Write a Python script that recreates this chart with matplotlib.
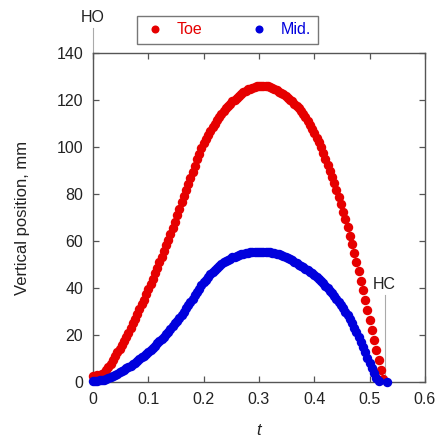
import numpy as np
import matplotlib
matplotlib.use("Agg")
import matplotlib.pyplot as plt

plt.rcParams['font.family'] = ['Liberation Sans', 'DejaVu Sans']

# ---- data (sampled every dt seconds) ----
dt = 0.004
toe = [2.5, 2.6, 2.8, 3.0, 3.4, 4.0, 5.0, 6.3, 7.8, 9.3,
       11.0, 12.6, 14.2, 15.8, 17.4, 19.0, 21.0, 23.0, 25.0, 27.0,
       29.0, 31.0, 33.0, 35.1, 37.3, 39.5, 41.7, 43.9, 46.2, 48.6,
       51.0, 53.4, 55.8, 58.2, 60.6, 63.0, 65.6, 68.2, 70.9, 73.7,
       76.5, 79.1, 81.7, 84.3, 86.9, 89.5, 92.1, 94.7, 97.1, 99.4,
       101.5, 103.4, 105.2, 106.9, 108.5, 110.0, 111.4, 112.8, 114.1, 115.3,
       116.5, 117.5, 118.5, 119.4, 120.2, 121.0, 121.8, 122.6, 123.3, 123.9,
       124.5, 124.9, 125.3, 125.6, 125.8, 126.0, 126.1, 126.1, 126.0, 125.8,
       125.5, 125.1, 124.7, 124.2, 123.6, 123.0, 122.4, 121.8, 121.0, 120.2,
       119.4, 118.5, 117.5, 116.4, 115.2, 114.0, 112.6, 111.1, 109.5, 107.8,
       106.0, 104.0, 102.0, 99.8, 97.5, 95.0, 92.5, 90.0, 87.3, 84.6,
       81.8, 78.6, 75.6, 72.5, 69.2, 65.8, 62.3, 58.6, 54.9, 51.0,
       47.1, 43.1, 39.1, 35.0, 30.8, 26.6, 22.3, 18.0, 13.7, 9.4,
       5.2, 1.4]
mid = [0.5, 0.5, 0.6, 0.7, 0.8, 1.0, 1.3, 1.7, 2.1, 2.5,
       3.0, 3.5, 4.1, 4.6, 5.2, 5.8, 6.4, 7.0, 7.7, 8.3,
       9.0, 9.7, 10.5, 11.2, 12.0, 12.8, 13.7, 14.6, 15.5, 16.4,
       17.3, 18.3, 19.3, 20.4, 21.4, 22.5, 23.7, 24.9, 26.1, 27.3,
       28.5, 29.9, 31.3, 32.7, 34.1, 35.5, 36.9, 38.3, 39.7, 41.1,
       42.4, 43.6, 44.7, 45.8, 46.8, 47.8, 48.7, 49.5, 50.2, 50.9,
       51.5, 52.0, 52.5, 53.0, 53.4, 53.8, 54.1, 54.4, 54.6, 54.8,
       55.0, 55.2, 55.3, 55.4, 55.5, 55.5, 55.5, 55.4, 55.4, 55.3,
       55.2, 55.0, 54.8, 54.5, 54.3, 54.0, 53.6, 53.2, 52.7, 52.3,
       51.8, 51.2, 50.6, 50.0, 49.4, 48.8, 48.2, 47.5, 46.9, 46.2,
       45.5, 44.6, 43.8, 42.9, 42.0, 41.0, 40.0, 38.9, 37.8, 36.7,
       35.5, 34.2, 32.9, 31.5, 30.0, 28.5, 26.7, 24.9, 23.0, 21.1,
       19.2, 17.0, 14.8, 12.6, 10.3, 8.0, 5.8, 3.7, 1.8, 0.4]
mid_hc_t = [0.532]
mid_hc_v = [0.0]

ho_t = 0.0
hc_t = 0.527

xticks = [0, 0.1, 0.2, 0.3, 0.4, 0.5, 0.6]
xticklabels = ["0", "0.1", "0.2", "0.3", "0.4", "0.5", "0.6"]
yticks = [0, 20, 40, 60, 80, 100, 120, 140]

t_toe = np.arange(len(toe)) * dt
t_mid = np.arange(len(mid)) * dt

RED = '#e60000'
BLUE = '#0000dd'
FS = 11.5

fig = plt.figure(figsize=(4.38, 4.40), dpi=100)
ax = fig.add_axes([0.2123, 0.1318, 0.758, 0.7477])

ms = 6.8
ax.plot(t_toe, toe, 'o', color=RED, ms=ms, mec=RED, mew=0, label='Toe', clip_on=False, zorder=3)
ax.plot(np.concatenate([t_mid, mid_hc_t]), np.concatenate([mid, mid_hc_v]), 'o',
        color=BLUE, ms=ms, mec=BLUE, mew=0, label='Mid.', clip_on=False, zorder=4)

ax.set_xlim(0, 0.6)
ax.set_ylim(0, 140)
ax.set_xticks(xticks)
ax.set_xticklabels(xticklabels)
ax.set_yticks(yticks)

spine_c = '#555555'
for s in ax.spines.values():
    s.set_color(spine_c)
    s.set_linewidth(1.0)
ax.tick_params(direction='in', top=True, right=True, length=4, width=0.9,
               color=spine_c, labelsize=FS, labelcolor='#222222')
ax.tick_params(axis='y', pad=7)
ax.tick_params(axis='x', pad=7)

ax.set_ylabel('Vertical position, mm', fontsize=FS + 0.5, color='#222222', labelpad=19)
ax.set_xlabel('t', fontsize=FS + 0.5, style='italic', color='#222222', labelpad=12)

# HO / HC markers
ax.plot([ho_t, ho_t], [140, 150.5], color='#aaaaaa', lw=0.8, clip_on=False)
ax.text(ho_t, 152.0, 'HO', ha='center', va='bottom', fontsize=FS, color='#222222')
ax.plot([hc_t, hc_t], [0, 37], color='#aaaaaa', lw=0.8, clip_on=False, zorder=2)
ax.text(hc_t, 38.5, 'HC', ha='center', va='bottom', fontsize=FS, color='#222222')

leg = ax.legend(loc='center', bbox_to_anchor=(0.519, 0.932), bbox_transform=fig.transFigure,
                ncol=2, fontsize=FS, frameon=True, fancybox=False, handletextpad=0.7,
                columnspacing=2.8, borderpad=0.4, handlelength=1.4, markerscale=0.85)
leg.get_frame().set_edgecolor('#555555')
leg.get_frame().set_linewidth(1.0)
for txt, c in zip(leg.get_texts(), [RED, BLUE]):
    txt.set_color(c)

fig.savefig('out.png', dpi=100)
